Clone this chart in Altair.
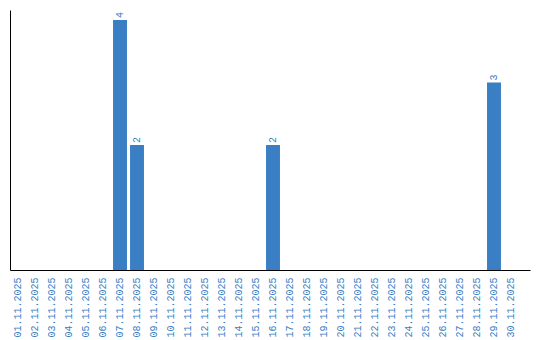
import altair as alt
import pandas as pd

dates = [f"{d:02d}.11.2025" for d in range(1, 31)]
values = [0, 0, 0, 0, 0, 0, 4, 2, 0, 0,
          0, 0, 0, 0, 0, 2, 0, 0, 0, 0,
          0, 0, 0, 0, 0, 0, 0, 0, 3, 0]

df = pd.DataFrame({"date": dates, "value": values})
df["label"] = [str(v) if v > 0 else "" for v in values]

color = "#3a7ec4"
font = "Liberation Mono"

x = alt.X("date:N", sort=dates, title=None,
          scale=alt.Scale(paddingInner=0.18, paddingOuter=0.385, align=0.08),
          axis=alt.Axis(labelAngle=-90, ticks=False, labelPadding=7,
                        labelFont=font, labelFontSize=10,
                        labelColor=color, domainColor="#000000",
                        labelAlign="right", labelBaseline="middle"))
y = alt.Y("value:Q", title=None,
          scale=alt.Scale(domain=[0, 4.16], nice=False),
          axis=alt.Axis(labels=False, ticks=False, grid=False,
                        domainColor="#000000"))

bars = alt.Chart(df).mark_bar(color=color).encode(x=x, y=y)
text = alt.Chart(df).mark_text(angle=270, align="left", baseline="middle",
                               dx=2, font=font, fontSize=10,
                               color=color).encode(x=x, y=y, text="label:N")

chart = (bars + text).properties(
    width=520, height=260,
    autosize=alt.AutoSizeParams(type="none"),
    padding={"left": 10, "top": 10, "right": 10, "bottom": 70},
).configure_view(stroke=None).configure_axis(grid=False)

chart.save("out.html", embed_options={"renderer": "svg", "actions": False})
